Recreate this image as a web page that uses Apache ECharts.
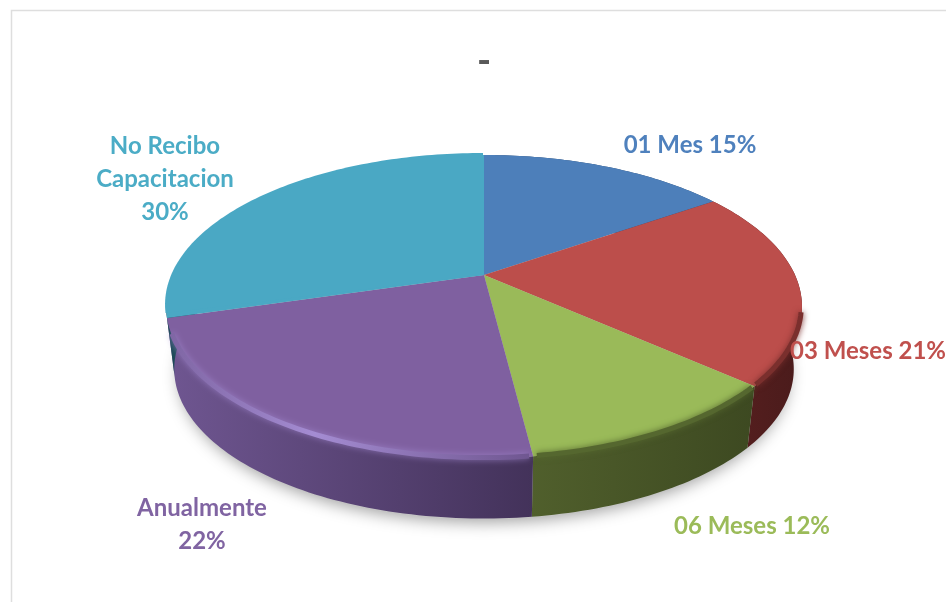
<!DOCTYPE html>
<html>
<head>
<meta charset="utf-8">
<style>html,body{margin:0;padding:0;background:#fff}#main{width:946px;height:602px}</style>
<script src="https://cdn.jsdelivr.net/npm/echarts@6/dist/echarts.min.js"></script>
</head>
<body>
<div id="main"></div>
<script>
const categories = ['01 Mes', '03 Meses', '06 Meses', 'Anualmente', 'No Recibo\nCapacitacion'];
// shares read from the slice edges, the labels show them rounded
const values = [15.4, 21.1, 11.5, 22.49, 29.51];
const labelSeparators = [' ', ' ', ' ', '\n', '\n'];

// colours and label places, one per slice
const topColors = ['#4d7fba', '#bc4e4b', '#9aba59', '#7f60a0', '#4aa8c4'];
const textColors = ['#4f81bd', '#c0504d', '#9bbb59', '#8064a2', '#4bacc6'];
const wallStops = [
    ['#2c4a70', '#2c4a70'],
    ['#5a2020', '#4a1b1b'],
    ['#505f2c', '#3d4921'],
    ['#6f5691', '#43325a'],
    ['#1c4a57', '#1c4a57']
];
const rimColors = [null, '#7a2f2d', '#55672f', '#a288d0', null];
const labelPlaces = [[690, 145], [868, 351], [752, 526], [202, 525], [165, 179]];

const total = values.reduce((a, b) => a + b, 0);
const TAU = Math.PI * 2;

// top plane and bottom plane of the disc, seen in perspective
const topPlane = { x: 484, y: 275, bx: 311, by: 145 };
const bottomPlane = { x: 484, y: 338, bx: 303, by: 143 };
const persp = 0.208;

const project = (plane, angle, r, dx, dy) => {
    const u = Math.sin(angle) * r;
    const v = -Math.cos(angle) * r;
    const d = 1 - persp * v;
    return [plane.x + plane.bx * u / d + (dx || 0), plane.y + plane.by * v / d + (dy || 0)];
};

const arc = (plane, a, b, r, dx, dy) => {
    const n = Math.max(2, Math.ceil((b - a) / 0.02));
    const pts = [];
    for (let i = 0; i <= n; i++) pts.push(project(plane, a + (b - a) * i / n, r, dx, dy));
    return pts;
};

const sliceAngles = (i) => {
    let before = 0;
    for (let k = 0; k < i; k++) before += values[k];
    return [before / total * TAU, (before + values[i]) / total * TAU];
};

const gradient = (stops) => new echarts.graphic.LinearGradient(0, 0, 1, 0, [
    { offset: 0, color: stops[0] },
    { offset: 1, color: stops[1] }
]);

const renderShadow = () => ({
    type: 'polygon',
    shape: { points: arc(bottomPlane, 0, TAU, 0.985, 0, 4) },
    style: { fill: '#c9c9c9', shadowBlur: 16, shadowColor: 'rgba(0,0,0,0.38)', shadowOffsetY: 3 }
});

const renderWall = (params) => {
    const i = params.dataIndex;
    const [a, b] = sliceAngles(i);
    const pts = arc(topPlane, a, b, 1).concat(arc(bottomPlane, a, b, 1).reverse());
    return {
        type: 'polygon',
        shape: { points: pts },
        style: { fill: gradient(wallStops[i]) }
    };
};

const renderTop = (params) => {
    const i = params.dataIndex;
    const [a, b] = sliceAngles(i);
    const apex = [topPlane.x, topPlane.y];
    const children = [{
        type: 'polygon',
        shape: { points: [apex].concat(arc(topPlane, a, b, 1)) },
        style: { fill: topColors[i] }
    }];
    if (i === 4) {
        // the last slice sits a little proud of the others at the back
        children.push({
            type: 'polygon',
            shape: { points: [apex].concat(arc(topPlane, a + 0.02, b, 1, -1, -2)) },
            style: { fill: topColors[i] }
        });
    }
    if (rimColors[i]) {
        // soft bevel along the visible edge, only where a wall is under it
        const purple = i === 3;
        const from = i === 1 ? a + 0.85 : a + 0.01;
        const to = purple ? b - 0.1 : b - 0.01;
        children.push({
            type: 'polyline',
            shape: { points: arc(topPlane, from, to, 0.998) },
            style: {
                fill: null,
                stroke: purple ? new echarts.graphic.LinearGradient(0, 0, 1, 0, [
                    { offset: 0, color: '#7f66a4' },
                    { offset: 0.4, color: '#a48cd2' },
                    { offset: 1, color: '#6f5690' }
                ]) : rimColors[i],
                lineWidth: 5,
                shadowBlur: 6,
                shadowColor: purple ? 'rgba(162,136,208,0.7)' : rimColors[i]
            }
        });
    }
    return { type: 'group', children: children };
};

const renderLabel = (params) => {
    const i = params.dataIndex;
    return {
        type: 'text',
        x: labelPlaces[i][0],
        y: labelPlaces[i][1],
        style: {
            text: categories[i] + labelSeparators[i] + Math.round(values[i]) + '%',
            fill: textColors[i],
            font: 'bold 24px Lato',
            align: 'center',
            verticalAlign: 'middle',
            lineHeight: 33
        }
    };
};

const chart = echarts.init(document.getElementById('main'), null, { renderer: 'canvas' });
const rows = values.map((v, i) => ({ name: categories[i], value: v }));
const base = { type: 'custom', coordinateSystem: 'none', silent: true, animation: false, clip: false };

chart.setOption({
    backgroundColor: '#fff',
    animation: false,
    title: {
        text: '-',
        left: 479,
        top: 38,
        textAlign: 'center',
        textStyle: { color: '#595959', fontFamily: 'Lato', fontWeight: 'bold', fontSize: 38 }
    },
    graphic: [{
        type: 'polyline',
        shape: { points: [[11.5, 602], [11.5, 10.5], [946, 10.5]] },
        style: { fill: null, stroke: '#dedede', lineWidth: 1.5 }
    }],
    series: [
        Object.assign({}, base, { z: 1, data: [1], renderItem: renderShadow }),
        Object.assign({}, base, { z: 2, data: rows, renderItem: renderWall }),
        Object.assign({}, base, { z: 3, data: rows, renderItem: renderTop }),
        Object.assign({}, base, { z: 4, data: rows, renderItem: renderLabel })
    ]
});
</script>
</body>
</html>
